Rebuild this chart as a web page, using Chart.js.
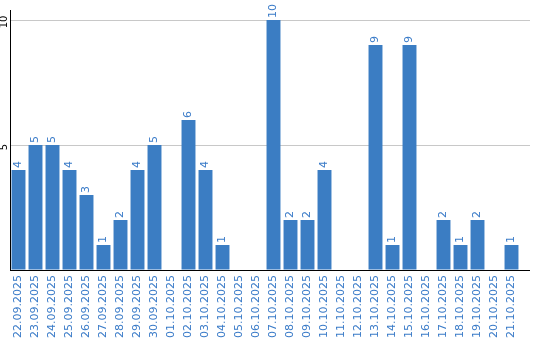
<!DOCTYPE html>
<html>
<head>
<meta charset="utf-8">
<script src="https://cdn.jsdelivr.net/npm/chart.js@4"></script>
<style>
  html, body { margin: 0; padding: 0; background: #fff; }
  #wrap { width: 540px; height: 340px; }
</style>
</head>
<body>
<div id="wrap"><canvas id="grafico"></canvas></div>
<script>
const datas = [
  '22.09.2025', '23.09.2025', '24.09.2025', '25.09.2025', '26.09.2025', '27.09.2025',
  '28.09.2025', '29.09.2025', '30.09.2025', '01.10.2025', '02.10.2025', '03.10.2025',
  '04.10.2025', '05.10.2025', '06.10.2025', '07.10.2025', '08.10.2025', '09.10.2025',
  '10.10.2025', '11.10.2025', '12.10.2025', '13.10.2025', '14.10.2025', '15.10.2025',
  '16.10.2025', '17.10.2025', '18.10.2025', '19.10.2025', '20.10.2025', '21.10.2025'
];
const valores = [4, 5, 5, 4, 3, 1, 2, 4, 5, 0, 6, 4, 1, 0, 0, 10, 2, 2, 4, 0, 0, 9, 1, 9, 0, 2, 1, 2, 0, 1];
const ticksY = [5, 10];

const azul = '#3b7dc3';

// numeros em cima das barras, girados
const rotulosBarras = {
  id: 'rotulosBarras',
  afterDatasetsDraw(chart) {
    const ctx = chart.ctx;
    const meta = chart.getDatasetMeta(0);
    ctx.save();
    ctx.fillStyle = '#3a7bc8';
    ctx.font = '11px "DejaVu Sans"';
    ctx.textAlign = 'left';
    ctx.textBaseline = 'middle';
    meta.data.forEach((bar, i) => {
      const v = valores[i];
      if (!v) return;
      ctx.save();
      ctx.translate(bar.x, bar.y - 2);
      ctx.rotate(-Math.PI / 2);
      ctx.fillText(String(v), 0, 0);
      ctx.restore();
    });
    ctx.restore();
  }
};

// o eixo x e as linhas de grade passam um pouco da ultima barra
const prolongarLinhas = {
  id: 'prolongarLinhas',
  afterDraw(chart) {
    const ctx = chart.ctx;
    const area = chart.chartArea;
    const y = chart.scales.y;
    const fim = area.right + 10;
    ctx.save();
    ctx.lineWidth = 1;
    ctx.strokeStyle = '#c8c8c8';
    ticksY.forEach(t => {
      const py = Math.round(y.getPixelForValue(t)) + 0.5;
      ctx.beginPath();
      ctx.moveTo(area.right, py);
      ctx.lineTo(fim, py);
      ctx.stroke();
    });
    ctx.strokeStyle = '#000';
    const base = Math.round(area.bottom) + 0.5;
    ctx.beginPath();
    ctx.moveTo(area.right - 1, base);
    ctx.lineTo(fim, base);
    ctx.stroke();
    ctx.restore();
  }
};

new Chart(document.getElementById('grafico').getContext('2d'), {
  type: 'bar',
  data: {
    labels: datas,
    datasets: [{
      data: valores,
      backgroundColor: azul,
      borderWidth: 0,
      barPercentage: 0.82,
      categoryPercentage: 1
    }]
  },
  options: {
    responsive: true,
    maintainAspectRatio: false,
    animation: false,
    layout: { padding: { top: 10, right: 20, left: 0, bottom: 0 } },
    plugins: {
      legend: { display: false },
      tooltip: { enabled: false }
    },
    scales: {
      x: {
        grid: { display: false, drawTicks: false },
        border: { color: '#000', width: 1 },
        ticks: {
          color: '#3a7bc8',
          font: { family: 'DejaVu Sans', size: 11 },
          minRotation: 90,
          maxRotation: 90,
          autoSkip: false,
          padding: 5
        },
        afterFit: s => { s.height = 70; }
      },
      y: {
        min: 0,
        max: 10.4,
        grid: { color: '#c8c8c8', drawTicks: false },
        border: { color: '#000', width: 1 },
        ticks: {
          stepSize: 5,
          includeBounds: false,
          color: '#000',
          font: { family: 'DejaVu Sans', size: 10 },
          minRotation: 90,
          maxRotation: 90,
          crossAlign: 'center',
          labelOffset: 2,
          padding: -1,
          callback: v => ticksY.includes(v) ? String(v) : ''
        },
        afterFit: s => { s.width = 10; }
      }
    }
  },
  plugins: [rotulosBarras, prolongarLinhas]
});
</script>
</body>
</html>
